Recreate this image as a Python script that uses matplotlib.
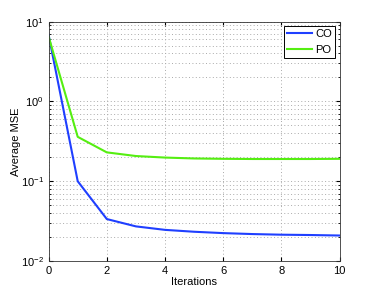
import numpy as np
import matplotlib.pyplot as plt
from matplotlib.ticker import LogLocator, NullFormatter

plt.rcParams['font.family'] = ['Liberation Sans', 'DejaVu Sans']
plt.rcParams['mathtext.fontset'] = 'custom'
plt.rcParams['mathtext.rm'] = 'Liberation Sans'

iterations = np.arange(0, 11)
co_mse = [6.8, 0.100, 0.0336, 0.0272, 0.0246, 0.0233, 0.0224, 0.0218, 0.0214, 0.0212, 0.0209]
po_mse = [6.5, 0.360, 0.230, 0.207, 0.198, 0.193, 0.191, 0.190, 0.190, 0.190, 0.191]

fig = plt.figure(figsize=(3.74, 2.96), dpi=100)
ax = fig.add_axes([0.130, 0.118, 0.778, 0.809])

ax.plot(iterations, co_mse, color='#1f3fff', lw=1.5, label='CO')
ax.plot(iterations, po_mse, color='#55ee11', lw=1.5, label='PO')

ax.set_yscale('log')
ax.set_xlim(0, 10)
ax.set_ylim(1e-2, 1e1)
ax.set_xticks([0, 2, 4, 6, 8, 10])
ax.yaxis.set_major_locator(LogLocator(base=10, numticks=10))
ax.yaxis.set_minor_locator(LogLocator(base=10, subs=np.arange(2, 10), numticks=20))
ax.yaxis.set_minor_formatter(NullFormatter())

ax.grid(True, which='major', linestyle=(0, (1, 2.5)), color='#aaaaaa', lw=0.7)
ax.grid(True, which='minor', axis='y', linestyle=(0, (1, 2.5)), color='#aaaaaa', lw=0.7)
ax.tick_params(which='both', direction='in', top=True, right=True, labelsize=8, length=3)
ax.tick_params(which='minor', length=1.5)
for s in ax.spines.values():
    s.set_linewidth(0.6)
    s.set_color('#333333')

ax.set_xlabel('Iterations', fontsize=8, labelpad=1)
ax.set_ylabel('Average MSE', fontsize=8, labelpad=0)

leg = ax.legend(loc='upper right', fontsize=8, fancybox=False, framealpha=1,
                edgecolor='black', borderaxespad=0.4, handlelength=2.2,
                handletextpad=0.3, borderpad=0.3)
leg.get_frame().set_linewidth(0.7)

fig.savefig('out.png', dpi=100)
